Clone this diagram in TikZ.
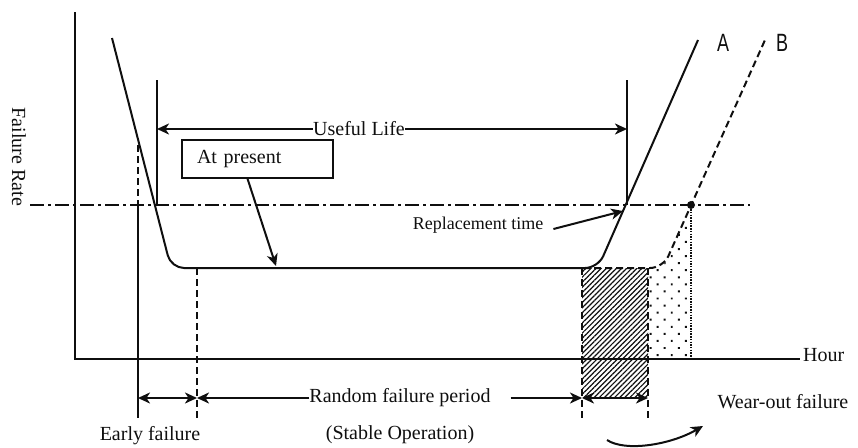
\documentclass[tikz,border=0pt]{standalone}
\usepackage{fontspec}
\setmainfont{Liberation Serif}
\newfontfamily\curvefont[FakeStretch=0.72]{Liberation Sans}
\usetikzlibrary{positioning,arrows.meta,calc,patterns.meta}
\definecolor{ink}{RGB}{15,15,15}
\tikzset{
  axis/.style={draw=ink, line width=2.2pt},
  curve/.style={draw=ink, line width=2pt, rounded corners=13pt},
  curveb/.style={curve, dash pattern=on 7pt off 4pt},
  guide/.style={draw=ink, line width=1.6pt},
  dguide/.style={guide, line width=2pt, dash pattern=on 7pt off 4pt},
  level/.style={draw=ink, line width=1.8pt, dash pattern=on 14pt off 4pt on 3pt off 4pt},
  flow/.style={->, line width=2pt, draw=ink},
  span/.style={<->, line width=2pt, draw=ink},
  lbl/.style={font=\fontsize{20}{24}\selectfont, text=ink, inner sep=0pt},
  curvelbl/.style={font=\curvefont\fontsize{25}{28}\selectfont, text=ink, inner sep=0pt},
}

\begin{document}
\begin{tikzpicture}[x=1pt, y=-1pt, >={Stealth[length=12pt,width=11pt,inset=3.5pt]}]
  \useasboundingbox (0,0) rectangle (858,447);
  % key points of the bathtub curves
  \coordinate (o) at (75,359);
  \coordinate (ytop) at (75,12);
  \coordinate (xend) at (800,359);
  \coordinate (a1) at (112,38);
  \coordinate (ac1) at (171,268);
  \coordinate (ac2) at (598,268);
  \coordinate (a2) at (698,40);
  \coordinate (bs) at (583,268);
  \coordinate (bc) at (663,268);
  \coordinate (b2) at (765,40);

  % shaded areas
  \fill[pattern={Lines[angle=45,distance=3.6pt,line width=1.2pt]}, pattern color=ink]
    (582,268) rectangle (648,397);
  \fill[pattern={Dots[distance=10pt,radius=1.4pt,angle=45]}, pattern color=ink]
    (648,359) -- (648,268) .. controls (663,268) .. (669,254) -- (691,205) -- (691,359) -- cycle;

  % axes and level line
  \draw[axis] (ytop) -- (o) -- (xend);
  \draw[level] (30,205) -- (750,205);

  % curves A and B
  \draw[curve] (a1) -- (ac1) -- (ac2) -- (a2);
  \draw[curveb] (bs) -- (bc) -- (b2);
  \node[circle, fill=ink, inner sep=0pt, minimum size=8pt] (cross) at (691,205) {};
  \draw[guide, line width=2pt, dash pattern=on 1.5pt off 1.2pt] (cross) -- (691,359);
  \node[curvelbl] (la) at (723,43) {A};
  \node[curvelbl] (lb) at (782,43) {B};

  % useful life
  \draw[guide] (157,80) -- (157,205);
  \draw[guide] (627,80) -- (627,205);
  \node[lbl] (life) at (359,129) {Useful Life};
  \coordinate (lifel) at (157,129);
  \coordinate (lifer) at (627,129);
  \draw[flow] (life.west) -- (lifel);
  \draw[flow] (life.east) -- (lifer);

  % at present
  \node[lbl, draw=ink, line width=1.4pt, text width=121pt, inner xsep=15pt,
    minimum height=38pt, align=left] (now) at (257.5,159) {At present};
  \coordinate (nowtip) at (276,266);
  \draw[flow] ($(now.south)+(-10,0)$) -- (nowtip);

  % replacement time
  \node[lbl, font=\fontsize{18}{22}\selectfont] (repl) at (478,225) {Replacement time};
  \coordinate (repltip) at (623,211);
  \draw[flow] ($(repl.east)+(10,4)$) -- (repltip);

  % period markers
  \draw[dguide] (138,145) -- (138,205);
  \draw[guide] (138,205) -- (138,418);
  \draw[dguide] (197,268) -- (197,418);
  \draw[dguide] (582,268) -- (582,418);
  \draw[dguide] (648,268) -- (648,418);

  \coordinate (p1) at (138,398);
  \coordinate (p2) at (197,398);
  \coordinate (p3) at (582,398);
  \coordinate (p4) at (648,398);
  \draw[span] (p1) -- (p2);
  \node[lbl] (rand) at (400,398) {Random failure period};
  \draw[flow] (rand.west) -- (p2);
  \draw[flow] ($(rand.east)+(20,0)$) -- (p3);
  \draw[span] (p3) -- (p4);

  \node[lbl] (early) at (150,436) {Early failure};
  \node[lbl] (stable) at (400,435) {(Stable Operation)};
  \node[lbl] (wear) at (783,402) {Wear-out failure};
  \coordinate (wt) at (607,440);
  \coordinate (wh) at (703,426);
  \draw[flow] (wt) .. controls (625,452) and (670,445) .. (wh);

  \node[lbl, anchor=west] (hour) at (803,355) {Hour};
  \node[lbl, rotate=-90] (rate) at (19,157) {Failure Rate};
\end{tikzpicture}
\end{document}
